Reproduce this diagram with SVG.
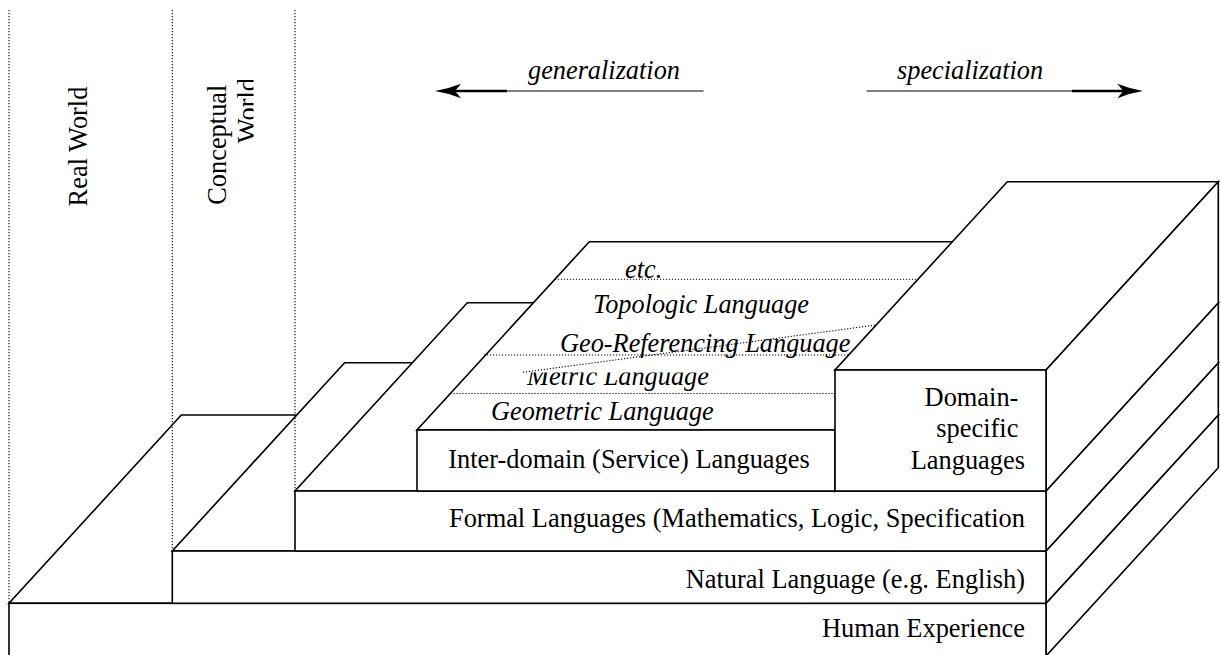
<svg xmlns="http://www.w3.org/2000/svg" width="1221" height="655" viewBox="0 0 1221 655">
  <style>
    .face { fill: #ffffff; stroke: #000000; stroke-width: 1.6; stroke-linejoin: miter; }
    .dot { fill: none; stroke: #000000; stroke-width: 1.1; stroke-dasharray: 1.2 1.8; }
    .lbl { font-family: "Liberation Serif", "Times New Roman", serif; font-size: 26.4px; fill: #000000; }
    .it { font-family: "Liberation Serif", "Times New Roman", serif; font-size: 26.3px; font-style: italic; fill: #000000; }
    .thick { fill: none; stroke: #000000; stroke-width: 2.4; }
    .thin { fill: none; stroke: #000000; stroke-width: 1.2; }
  </style>
  <defs>
    <marker id="head" viewBox="0 0 26 16" refX="18" refY="8" markerWidth="26" markerHeight="16" markerUnits="userSpaceOnUse" orient="auto-start-reverse">
      <path d="M0,0.8 Q13,6 26,8 Q13,10 0,15.2 L6,8 Z" fill="#000000"/>
    </marker>
    <clipPath id="clipWorld">
      <rect x="0" y="0" width="253.5" height="655"/>
    </clipPath>
    <clipPath id="clipMetric">
      <rect x="400" y="372.5" width="450" height="40"/>
    </clipPath>
  </defs>

  <g id="human-experience">
    <polygon class="face" points="9,603.3 1046,603.3 1218.3,415 181.3,415"/>
    <polygon class="face" points="1046,603.3 1218.3,415 1218.3,467.7 1046,656"/>
    <rect class="face" x="9" y="603.3" width="1037" height="53"/>
    <text class="lbl" x="1025" y="637" text-anchor="end">Human Experience</text>
  </g>

  <g id="natural-language">
    <polygon class="face" points="172.3,551 1046,551 1218.3,362.7 344.6,362.7"/>
    <polygon class="face" points="1046,551 1218.3,362.7 1218.3,415 1046,603.3"/>
    <rect class="face" x="172.3" y="551" width="873.7" height="52.3"/>
    <text class="lbl" x="1025" y="587.5" text-anchor="end">Natural Language (e.g. English)</text>
  </g>

  <g id="formal-languages">
    <polygon class="face" points="295,491 1046,491 1218.3,302.7 467.3,302.7"/>
    <polygon class="face" points="1046,491 1218.3,302.7 1218.3,362.7 1046,551"/>
    <rect class="face" x="295" y="491" width="751" height="60"/>
    <text class="lbl" x="1025" y="526.5" text-anchor="end">Formal Languages (Mathematics, Logic, Specification</text>
  </g>

  <g id="inter-domain">
    <polygon class="face" points="417,430 835,430 1007.3,241.7 589.3,241.7"/>
    <polygon class="face" points="835,430 1007.3,241.7 1007.3,302.7 835,491"/>
    <rect class="face" x="417" y="430" width="418" height="61"/>
    <text class="lbl" x="629" y="467.5" text-anchor="middle">Inter-domain (Service) Languages</text>
    <g id="top-face-languages">
      <line class="dot" x1="554.9" y1="279.3" x2="930" y2="279.3"/>
      <line class="dot" x1="484" y1="355" x2="860" y2="355"/>
      <line class="dot" x1="450.4" y1="393.5" x2="835" y2="393.5"/>
      <line class="dot" x1="523" y1="372.3" x2="876" y2="325"/>
      <text class="it" x="625" y="277.5">etc.</text>
      <text class="it" x="593" y="312.5">Topologic Language</text>
      <text class="it" x="560" y="351.5">Geo-Referencing Language</text>
      <text class="it" x="527" y="384.5" clip-path="url(#clipMetric)">Metric Language</text>
      <text class="it" x="491" y="419.5">Geometric Language</text>
    </g>
  </g>

  <g id="domain-specific">
    <polygon class="face" points="835,370 1046,370 1218.3,181.7 1007.3,181.7"/>
    <polygon class="face" points="1046,370 1218.3,181.7 1218.3,302.7 1046,491"/>
    <rect class="face" x="835" y="370" width="211" height="121"/>
    <text class="lbl" text-anchor="end">
      <tspan x="1025" y="405.5">Domain-</tspan>
      <tspan x="1025" y="437">specific</tspan>
      <tspan x="1025" y="468.5">Languages</tspan>
    </text>
  </g>

  <g id="world-separators">
    <line class="dot" x1="9" y1="10" x2="9" y2="603"/>
    <line class="dot" x1="172.3" y1="10" x2="172.3" y2="551"/>
    <line class="dot" x1="295" y1="10" x2="295" y2="491"/>
  </g>

  <g id="real-world">
    <text class="lbl" transform="translate(87,146.5) rotate(-90)" text-anchor="middle">Real World</text>
  </g>

  <g id="conceptual-world" clip-path="url(#clipWorld)">
    <text class="lbl" transform="translate(225.5,78) rotate(-90)" text-anchor="end">
      <tspan x="0" y="0">Conceptual</tspan>
      <tspan x="0" y="30">World</tspan>
    </text>
  </g>

  <g id="connectors">
    <g id="generalization">
      <line class="thin" x1="506" y1="91" x2="703.5" y2="91"/>
      <line class="thick" x1="443" y1="91" x2="507" y2="91" marker-start="url(#head)"/>
      <text class="it" x="528" y="79">generalization</text>
    </g>
    <g id="specialization">
      <line class="thin" x1="866.5" y1="91" x2="1073" y2="91"/>
      <line class="thick" x1="1072" y1="91" x2="1135.3" y2="91" marker-end="url(#head)"/>
      <text class="it" x="897" y="79">specialization</text>
    </g>
  </g>
</svg>
